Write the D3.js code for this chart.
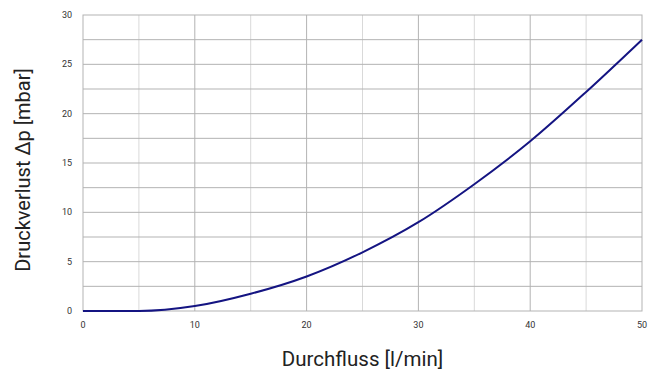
<!DOCTYPE html>
<html>
<head>
<meta charset="utf-8">
<script src="https://cdn.jsdelivr.net/npm/d3@7"></script>
<style>
  body { margin: 0; background: #fff; }
  svg { display: block; font-family: Roboto, "Noto Sans", sans-serif; }
</style>
</head>
<body>
<div id="chart"></div>
<script>
const flow = [0, 5, 10, 15, 20, 25, 30, 35, 40, 45, 50];
const pressure = [0, 0, 0.5, 1.75, 3.5, 5.95, 9.0, 12.85, 17.2, 22.2, 27.5];
const xTicks = [0, 10, 20, 30, 40, 50];
const yTicks = [0, 5, 10, 15, 20, 25, 30];

const width = 656, height = 373;
const margin = { top: 15, right: 14, bottom: 62, left: 83 };

const svg = d3.select("#chart").append("svg")
  .attr("width", width)
  .attr("height", height);

const x = d3.scaleLinear().domain([0, 50]).range([margin.left, width - margin.right]);
const y = d3.scaleLinear().domain([0, 30]).range([height - margin.bottom, margin.top]);

// grid
const grid = svg.append("g");
grid.selectAll(".vminor").data(d3.range(5, 50, 10)).join("line")
  .attr("x1", d => x(d)).attr("x2", d => x(d))
  .attr("y1", y(0)).attr("y2", y(30))
  .attr("stroke", "#d9d9d9").attr("stroke-width", 1);
grid.selectAll(".hline").data(d3.range(2.5, 30, 2.5)).join("line")
  .attr("x1", x(0)).attr("x2", x(50))
  .attr("y1", d => y(d)).attr("y2", d => y(d))
  .attr("stroke", "#b3b3b3").attr("stroke-width", 1);
grid.selectAll(".vmajor").data(d3.range(10, 50, 10)).join("line")
  .attr("x1", d => x(d)).attr("x2", d => x(d))
  .attr("y1", y(0)).attr("y2", y(30))
  .attr("stroke", "#b3b3b3").attr("stroke-width", 1);

// frame
svg.append("rect")
  .attr("x", x(0)).attr("y", y(30))
  .attr("width", x(50) - x(0)).attr("height", y(0) - y(30))
  .attr("fill", "none").attr("stroke", "#b3b3b3").attr("stroke-width", 1);

// tick labels
svg.append("g").selectAll("text").data(xTicks).join("text")
  .attr("x", d => x(d)).attr("y", y(0) + 17)
  .attr("text-anchor", "middle")
  .attr("font-size", 9).attr("fill", "#333")
  .text(d => d);

svg.append("g").selectAll("text").data(yTicks).join("text")
  .attr("x", x(0) - 11).attr("y", d => y(d) + 3)
  .attr("text-anchor", "end")
  .attr("font-size", 9).attr("fill", "#333")
  .text(d => d);

// curve
const line = d3.line()
  .x((d, i) => x(flow[i]))
  .y(d => y(d))
  .curve(d3.curveMonotoneX);

svg.append("path")
  .attr("d", line(pressure))
  .attr("fill", "none")
  .attr("stroke", "#141482")
  .attr("stroke-width", 2);

// axis titles
svg.append("text")
  .attr("x", (x(0) + x(50)) / 2).attr("y", 366)
  .attr("text-anchor", "middle")
  .attr("font-size", 20.5).attr("fill", "#222")
  .text("Durchfluss [l/min]");

svg.append("text")
  .attr("transform", `translate(30, 170) rotate(-90)`)
  .attr("text-anchor", "middle")
  .attr("font-size", 20).attr("fill", "#222")
  .text("Druckverlust Δp [mbar]");
</script>
</body>
</html>
